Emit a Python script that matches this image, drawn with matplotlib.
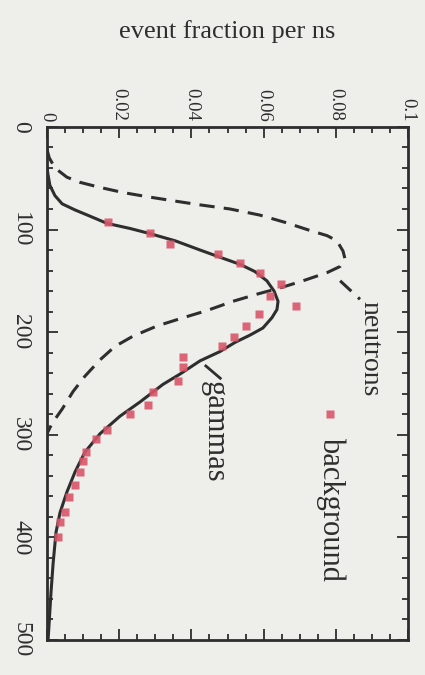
import numpy as np
import matplotlib.pyplot as plt
from matplotlib.ticker import MultipleLocator

plt.rcParams['font.family'] = ['Liberation Serif', 'DejaVu Serif']

# gammas (solid curve): time in ns, event fraction per ns
t_gamma = [40, 47, 57, 67, 75, 81, 87, 94, 99, 104, 111, 120, 127, 134, 141,
           150, 160, 170, 178, 186, 196, 203, 210, 219, 228, 241, 251, 268, 282,
           299, 317, 336, 356, 376, 395, 425, 454, 483, 500]
f_gamma = [0.0, 0.0003, 0.0008, 0.0022, 0.0042, 0.0078, 0.0119, 0.0166, 0.0230,
           0.0285, 0.0355, 0.0424, 0.0479, 0.0535, 0.0576, 0.0609, 0.0629, 0.0640,
           0.0637, 0.0623, 0.0598, 0.0562, 0.0521, 0.0479, 0.0424, 0.0368, 0.0321,
           0.0258, 0.0202, 0.0147, 0.0105, 0.0078, 0.0055, 0.0036, 0.0025, 0.0017,
           0.0011, 0.0006, 0.0003]

# neutrons (dashed curve)
t_neutron = [22, 30, 40, 49, 54, 59, 64, 68, 72, 76, 80, 86, 93, 101, 106, 111,
             121, 128, 136, 142, 150, 157, 163, 170, 179, 186, 194, 204, 214, 227,
             243, 258, 275, 289, 299]
f_neutron = [0.0, 0.0006, 0.0022, 0.0055, 0.0091, 0.0147, 0.0211, 0.0277, 0.0349,
             0.0424, 0.0507, 0.0590, 0.0659, 0.0729, 0.0776, 0.0803, 0.0820, 0.0825,
             0.0812, 0.0776, 0.0709, 0.0645, 0.0582, 0.0515, 0.0443, 0.0377, 0.0305,
             0.0238, 0.0188, 0.0147, 0.0105, 0.0072, 0.0042, 0.0014, 0.0]

# background points
t_bg = [93, 103, 114, 124, 133, 142, 153, 165, 175, 182, 194, 205, 214, 224,
        234, 248, 258, 271, 280, 295, 304, 317, 326, 336, 349, 361, 375, 385, 400]
f_bg = [0.0169, 0.0285, 0.0341, 0.0474, 0.0535, 0.0590, 0.0648, 0.0618, 0.0690,
        0.0587, 0.0551, 0.0518, 0.0485, 0.0377, 0.0377, 0.0363, 0.0294, 0.0280,
        0.0230, 0.0166, 0.0136, 0.0108, 0.0100, 0.0091, 0.0078, 0.0061, 0.0050,
        0.0036, 0.0030]

frac_ticks = [0, 0.02, 0.04, 0.06, 0.08, 0.1]
frac_labels = ['0', '0.02', '0.04', '0.06', '0.08', '0.1']
time_ticks = [0, 100, 200, 300, 400, 500]

bg = '#eeeeea'
ink = '#2e2e2e'
red = '#d9566a'

fig = plt.figure(figsize=(4.25, 6.75), dpi=100, facecolor=bg)
ax = fig.add_axes([0.1106, 0.052, 0.8494, 0.760], facecolor=bg)

ax.plot(f_gamma, t_gamma, color=ink, lw=2.2)
ax.plot(f_neutron, t_neutron, color=ink, lw=2.2, ls=(0, (5, 3)))
ax.plot(f_bg, t_bg, 's', color=red, ms=6, mec='none', alpha=0.9)

# leader lines to labels
ax.plot([0.0812, 0.0867], [150, 168], color=ink, lw=2.2, ls=(0, (5, 3)))
ax.plot([0.0440, 0.0480], [233, 245], color=ink, lw=2)

ax.text(0.0895, 170, 'neutrons', rotation=-90, ha='center', va='top', fontsize=20, color=ink)
ax.plot([0.0785], [280], 's', color=red, ms=6, mec='none', alpha=0.9)
ax.text(0.0785, 302, 'background', rotation=-90, ha='center', va='top', fontsize=22, color=ink)
ax.text(0.0462, 248, 'gammas', rotation=-90, ha='center', va='top', fontsize=22, color=ink)

ax.set_xlim(0, 0.1)
ax.set_ylim(500, 0)

ax.xaxis.tick_top()
ax.xaxis.set_label_position('top')
ax.set_xticks(frac_ticks)
ax.set_xticklabels(frac_labels)
ax.set_yticks(time_ticks)
ax.xaxis.set_minor_locator(MultipleLocator(0.005))
ax.yaxis.set_minor_locator(MultipleLocator(20))

ax.tick_params(axis='both', which='both', direction='in', top=True, bottom=True,
               left=True, right=True, color=ink, width=1.3)
ax.tick_params(which='major', length=8)
ax.tick_params(which='minor', length=4)
ax.tick_params(axis='x', labelrotation=-90, labelsize=13.5, labelcolor=ink, pad=4)
ax.tick_params(axis='y', labelrotation=-90, labelsize=17, labelcolor=ink, pad=19)
for lab in ax.get_yticklabels():
    lab.set_va('center')
    lab.set_ha('center')

for s in ax.spines.values():
    s.set_linewidth(2)
    s.set_color(ink)

ax.set_xlabel('event fraction per ns', fontsize=19, color=ink, labelpad=36)

fig.savefig('out.png', dpi=100, facecolor=bg)
